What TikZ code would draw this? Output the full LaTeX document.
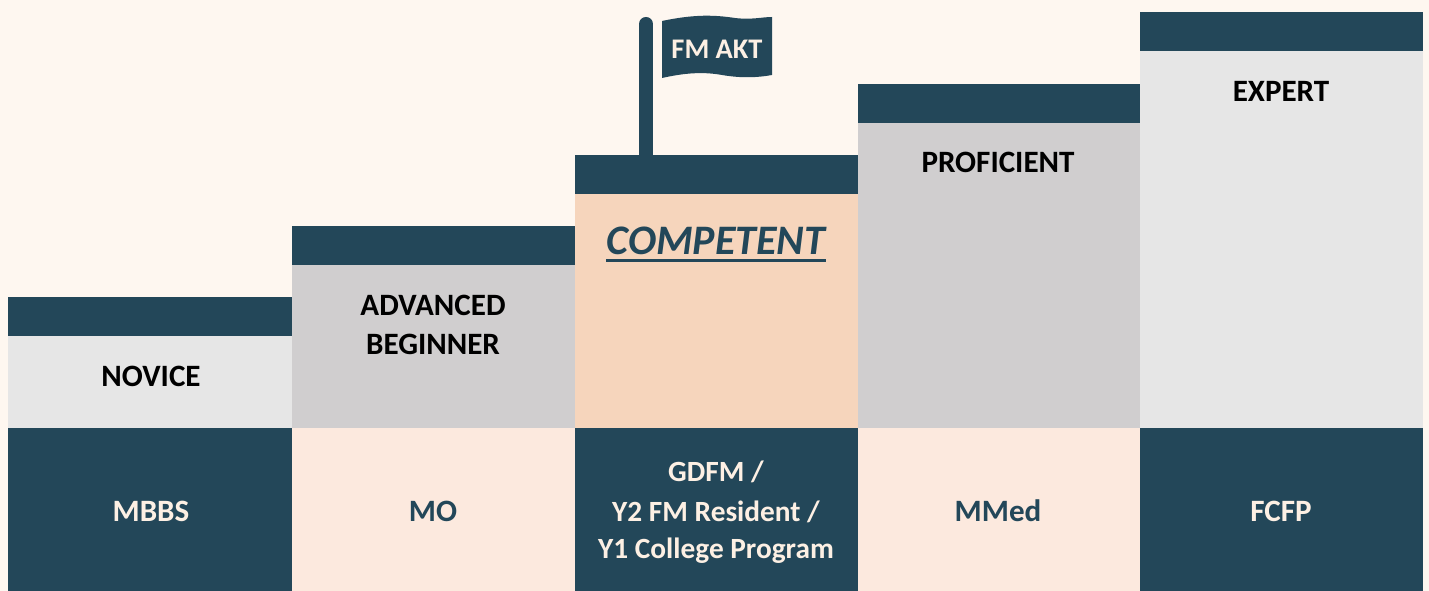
\documentclass[tikz,border=0pt]{standalone}
\usepackage{fontspec}
\setmainfont{Carlito}
\definecolor{bgc}{HTML}{FEF7F0}
\definecolor{darkc}{HTML}{234759}
\definecolor{lgray}{HTML}{E6E6E6}
\definecolor{mgray}{HTML}{D0CECF}
\definecolor{peach}{HTML}{F6D5BC}
\definecolor{lpeach}{HTML}{FCE9DE}
\definecolor{cream}{HTML}{FDF0E4}
\tikzset{
  lbl/.style={inner sep=0pt, anchor=base, font=\fontsize{23.3}{28}\selectfont\bfseries, text=black},
  btmlight/.style={inner sep=0pt, anchor=base, font=\fontsize{23.3}{28}\selectfont\bfseries, text=cream},
  btmdark/.style={inner sep=0pt, anchor=base, font=\fontsize{23.3}{28}\selectfont\bfseries, text=darkc},
  btmsmall/.style={inner sep=0pt, anchor=base, font=\fontsize{22}{26}\selectfont\bfseries, text=cream},
}
\begin{document}
\begin{tikzpicture}[x=0.75pt,y=-0.75pt]
\useasboundingbox (0,0) rectangle (1429,591);
\fill[bgc] (0,0) rectangle (1429,591);
% column 1
\fill[darkc] (8,297) rectangle (292,336);
\fill[lgray] (8,336) rectangle (292,428);
\fill[darkc] (8,428) rectangle (292,591);
% column 2
\fill[darkc] (292,226) rectangle (575,265);
\fill[mgray] (292,265) rectangle (575,428);
\fill[lpeach] (292,428) rectangle (575,591);
% column 3
\fill[darkc] (575,155) rectangle (858,194);
\fill[peach] (575,194) rectangle (858,428);
\fill[darkc] (575,428) rectangle (858,591);
% column 4
\fill[darkc] (858,84) rectangle (1140,123);
\fill[mgray] (858,123) rectangle (1140,428);
\fill[lpeach] (858,428) rectangle (1140,591);
% column 5
\fill[darkc] (1140,12) rectangle (1423,51);
\fill[lgray] (1140,51) rectangle (1423,428);
\fill[darkc] (1140,428) rectangle (1423,591);
% flag
\draw[darkc, line width=10.5pt, line cap=round] (646,24) -- (646,158);
\fill[darkc] (662,21) .. controls (695,14) and (715,15) .. (735,18)
  .. controls (752,20) and (762,17) .. (772,17)
  -- (772,75) .. controls (755,78) and (740,78) .. (722,75)
  .. controls (700,71) and (680,74) .. (662,78) -- cycle;
\node[btmsmall, font=\fontsize{21.3}{26}\selectfont\bfseries] (akt) at (717,59) {FM AKT};
% headings
\node[lbl] (novice) at (151,387) {NOVICE};
\node[lbl] (adv1) at (433,316) {ADVANCED};
\node[lbl] (adv2) at (433,355) {BEGINNER};
\node[inner sep=0pt, anchor=base, font=\fontsize{31.5}{36}\selectfont\bfseries\itshape, text=darkc] (comp) at (716,255) {COMPETENT};
\draw[darkc, line width=1.8pt] ([yshift=-4pt]comp.base west) -- ([yshift=-4pt]comp.base east);
\node[lbl] (prof) at (998,173) {PROFICIENT};
\node[lbl] (expert) at (1281,102) {EXPERT};
% bottom
\node[btmlight] (mbbs) at (151,522) {MBBS};
\node[btmdark] (mo) at (433,522) {MO};
\node[btmsmall] (g1) at (716,482) {GDFM /};
\node[btmsmall] (g2) at (716,522) {Y2 FM Resident /};
\node[btmsmall] (g3) at (716,559) {Y1 College Program};
\node[btmdark] (mmed) at (998,522) {MMed};
\node[btmlight] (fcfp) at (1281,522) {FCFP};
\end{tikzpicture}
\end{document}
